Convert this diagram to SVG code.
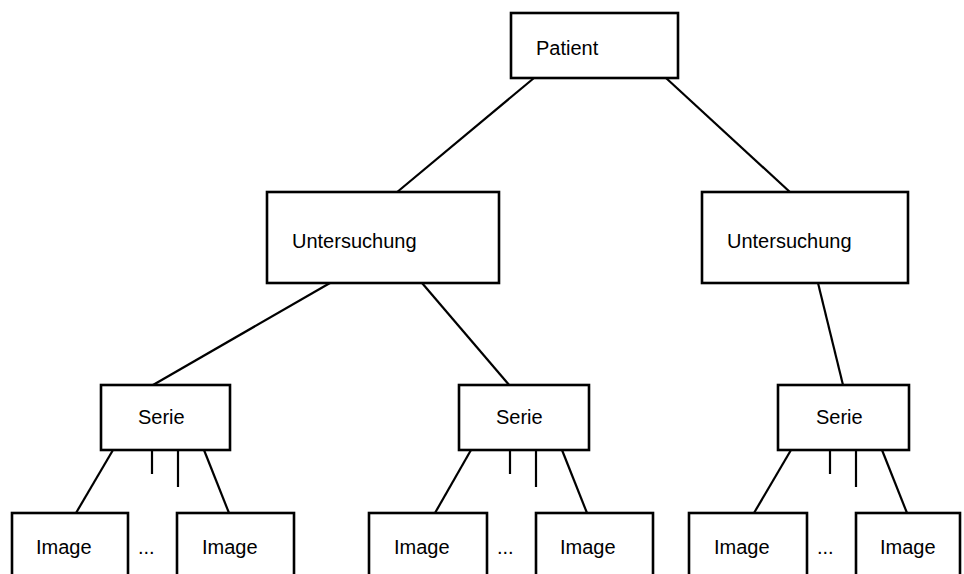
<svg xmlns="http://www.w3.org/2000/svg" width="964" height="574" viewBox="0 0 964 574">
  <style>
    .box { fill: #ffffff; stroke: #000000; stroke-width: 2.6; }
    .edge { stroke: #000000; stroke-width: 2.2; fill: none; }
    .label { font-family: "Liberation Sans", Arial, sans-serif; font-size: 20px; fill: #000000; }
  </style>
  <rect width="964" height="574" fill="#ffffff"/>

  <!-- connectors -->
  <g id="connectors">
    <line class="edge" x1="534" y1="78" x2="396" y2="193"/>
    <line class="edge" x1="666" y1="78" x2="791" y2="193"/>
    <line class="edge" x1="330" y1="283" x2="153" y2="385"/>
    <line class="edge" x1="422" y1="283" x2="510" y2="386"/>
    <line class="edge" x1="818" y1="283" x2="843" y2="385"/>
    <!-- Serie 1 -> images -->
    <line class="edge" x1="113" y1="450" x2="76" y2="513"/>
    <line class="edge" x1="152" y1="450" x2="152" y2="474"/>
    <line class="edge" x1="178" y1="450" x2="178" y2="487"/>
    <line class="edge" x1="204" y1="450" x2="229" y2="513"/>
    <!-- Serie 2 -> images -->
    <line class="edge" x1="471" y1="450" x2="435" y2="513"/>
    <line class="edge" x1="510" y1="450" x2="510" y2="474"/>
    <line class="edge" x1="536" y1="450" x2="536" y2="487"/>
    <line class="edge" x1="562" y1="450" x2="587" y2="513"/>
    <!-- Serie 3 -> images -->
    <line class="edge" x1="791" y1="450" x2="754" y2="513"/>
    <line class="edge" x1="830" y1="450" x2="830" y2="474"/>
    <line class="edge" x1="856" y1="450" x2="856" y2="487"/>
    <line class="edge" x1="882" y1="450" x2="907" y2="513"/>
  </g>

  <g id="patient">
    <rect class="box" x="511" y="13" width="167" height="65"/>
    <text class="label" x="536" y="55">Patient</text>
  </g>

  <g id="untersuchung-1">
    <rect class="box" x="267" y="192" width="232" height="91"/>
    <text class="label" x="292" y="248">Untersuchung</text>
  </g>
  <g id="untersuchung-2">
    <rect class="box" x="702" y="192" width="206" height="91"/>
    <text class="label" x="727" y="248">Untersuchung</text>
  </g>

  <g id="serie-1">
    <rect class="box" x="101" y="385" width="129" height="65"/>
    <text class="label" x="138" y="424">Serie</text>
  </g>
  <g id="serie-2">
    <rect class="box" x="459" y="385" width="130" height="65"/>
    <text class="label" x="496" y="424">Serie</text>
  </g>
  <g id="serie-3">
    <rect class="box" x="778" y="385" width="131" height="65"/>
    <text class="label" x="816" y="424">Serie</text>
  </g>

  <g id="image-1a">
    <rect class="box" x="12" y="513" width="116" height="80"/>
    <text class="label" x="36" y="554">Image</text>
  </g>
  <g id="dots-1">
    <text class="label" x="138" y="554">...</text>
  </g>
  <g id="image-1b">
    <rect class="box" x="177" y="513" width="117" height="80"/>
    <text class="label" x="202" y="554">Image</text>
  </g>

  <g id="image-2a">
    <rect class="box" x="369" y="513" width="118" height="80"/>
    <text class="label" x="394" y="554">Image</text>
  </g>
  <g id="dots-2">
    <text class="label" x="497" y="554">...</text>
  </g>
  <g id="image-2b">
    <rect class="box" x="536" y="513" width="117" height="80"/>
    <text class="label" x="560" y="554">Image</text>
  </g>

  <g id="image-3a">
    <rect class="box" x="689" y="513" width="118" height="80"/>
    <text class="label" x="714" y="554">Image</text>
  </g>
  <g id="dots-3">
    <text class="label" x="817" y="554">...</text>
  </g>
  <g id="image-3b">
    <rect class="box" x="856" y="513" width="104" height="80"/>
    <text class="label" x="880" y="554">Image</text>
  </g>
</svg>
